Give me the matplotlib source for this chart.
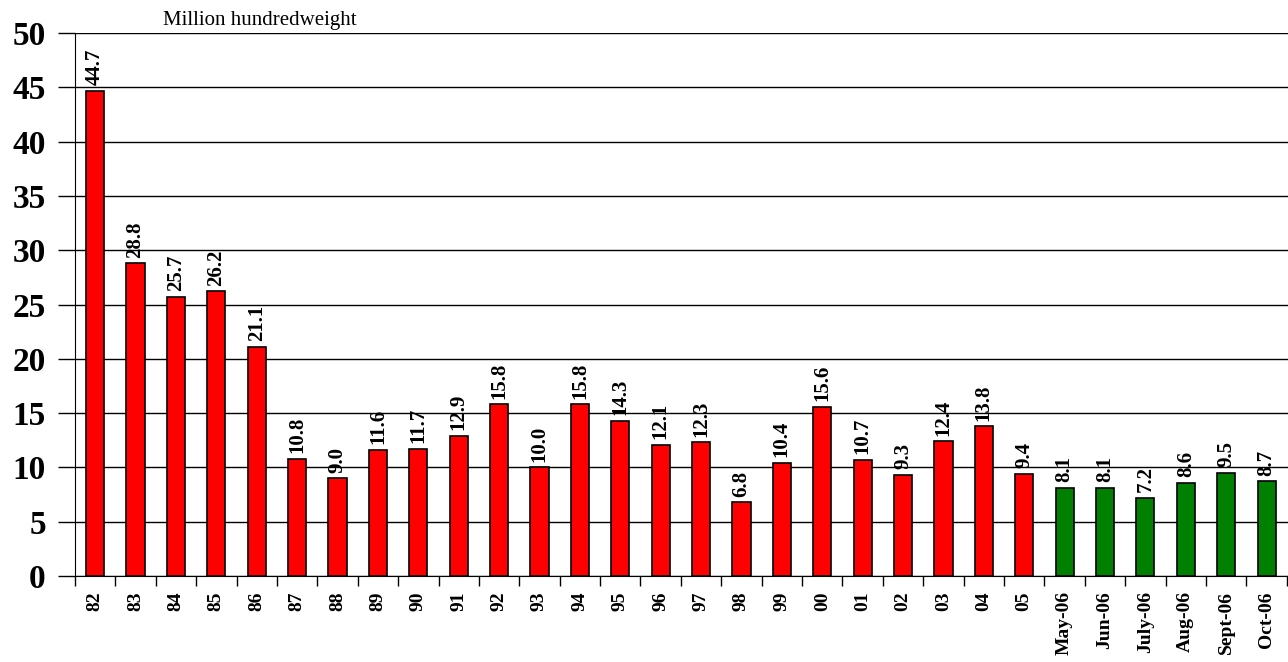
import matplotlib.pyplot as plt
import numpy as np

labels = ["82", "83", "84", "85", "86", "87", "88", "89", "90", "91", "92", "93",
          "94", "95", "96", "97", "98", "99", "00", "01", "02", "03", "04", "05",
          "May-06", "Jun-06", "July-06", "Aug-06", "Sept-06", "Oct-06"]
values = [44.7, 28.8, 25.7, 26.2, 21.1, 10.8, 9.0, 11.6, 11.7, 12.9, 15.8, 10.0,
          15.8, 14.3, 12.1, 12.3, 6.8, 10.4, 15.6, 10.7, 9.3, 12.4, 13.8, 9.4,
          8.1, 8.1, 7.2, 8.6, 9.5, 8.7]
n_annual = 24

plt.rcParams['font.family'] = ['Liberation Serif', 'DejaVu Serif']

colors = ["#ff0000"] * n_annual + ["#008000"] * (len(values) - n_annual)
x = np.arange(len(values))

fig = plt.figure(figsize=(12.88, 6.62), dpi=100)
ax = fig.add_axes([0.0582, 0.13, 0.9418, 0.82])

ax.bar(x, values, width=0.45, color=colors, edgecolor="black", linewidth=1.2, zorder=3)

for xi, v in zip(x, values):
    ax.annotate(f"{v:.1f}", (xi, v), xytext=(0, 4), textcoords="offset points",
                rotation=90, ha="center", va="bottom", fontsize=15,
                fontweight="bold", zorder=4)

ax.set_xlim(-0.5, 29.53)
ax.set_ylim(0, 50)
ax.set_yticks(range(0, 51, 5))
ax.yaxis.grid(True, color="black", linewidth=1, zorder=0)
ax.tick_params(axis="y", length=12, width=1, labelsize=24, pad=9)
for t in ax.get_yticklabels():
    t.set_fontweight("bold")

ax.set_xticks(x)
ax.set_xticklabels(labels, rotation=90, fontsize=14, fontweight="bold")
ax.set_xticks(np.arange(-0.5, len(values), 1), minor=True)
ax.tick_params(axis="x", which="major", length=0, pad=11)
ax.tick_params(axis="x", which="minor", length=7, width=1)

ax.spines["top"].set_visible(False)
ax.spines["right"].set_visible(False)

fig.text(0.1266, 0.962, "Million hundredweight", fontsize=15, ha="left", va="baseline")

fig.savefig("out.png", dpi=100)
